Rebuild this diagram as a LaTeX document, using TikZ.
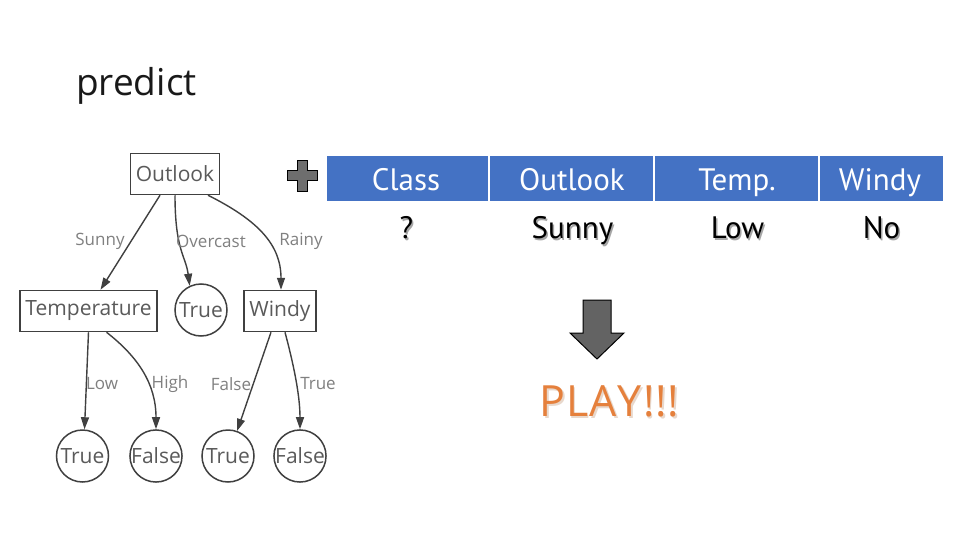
\documentclass[tikz,border=0pt]{standalone}
\usepackage{fontspec}
\setmainfont{Open Sans}
\newfontfamily\ptsans{PT Sans}
\usetikzlibrary{arrows.meta}
\definecolor{edgecol}{HTML}{404040}
\definecolor{nodetext}{HTML}{5A5A5A}
\definecolor{labeltext}{HTML}{808080}
\definecolor{headblue}{HTML}{4472C4}
\definecolor{playorange}{HTML}{E5803C}
\definecolor{playshadow}{HTML}{E8D8CC}
\definecolor{plusgray}{HTML}{6E6E6E}
\definecolor{arrowgray}{HTML}{636363}
\tikzset{
  treebox/.style={draw=edgecol, line width=1.5pt, inner sep=0pt, minimum height=41pt,
    text=nodetext, font=\fontsize{21}{25}\selectfont},
  leaf/.style={circle, draw=edgecol, line width=1.5pt, inner sep=0pt, minimum size=52pt,
    text=nodetext, font=\fontsize{21}{25}\selectfont},
  treeedge/.style={draw=edgecol, line width=1.4pt, -{Triangle[length=12pt,width=8pt]}},
  elabel/.style={text=labeltext, font=\fontsize{17}{20}\selectfont, inner sep=0pt},
  headcell/.style={fill=headblue, draw=none},
  headtext/.style={text=white, font=\ptsans\fontsize{31}{36}\selectfont, anchor=base, inner sep=0pt},
  rowtext/.style={text=black, font=\ptsans\fontsize{31}{36}\selectfont, anchor=base, inner sep=0pt},
  rowshadow/.style={text=black!35, font=\ptsans\fontsize{31}{36}\selectfont, anchor=base, inner sep=0pt},
}
\begin{document}
\begin{tikzpicture}[x=1pt,y=-1pt]
\useasboundingbox (0,0) rectangle (960,540);
\fill[white] (0,0) rectangle (960,540);

% title
\node[anchor=base west, inner sep=0pt, font=\fontsize{37}{44}\selectfont, text=black!90] (title) at (76,96) {predict};

% tree nodes
\node[treebox, minimum width=89pt] (outlook) at (175,174) {Outlook};
\node[treebox, minimum width=137pt] (temp) at (88.5,311) {Temperature};
\node[leaf] (trueA) at (201,310) {True};
\node[treebox, minimum width=72pt] (windy) at (280,311) {Windy};
\node[leaf] (t1) at (82.5,456) {True};
\node[leaf] (f1) at (156,456) {False};
\node[leaf] (t2) at (228,456) {True};
\node[leaf] (f2) at (300,456) {False};

% tree edges
\draw[treeedge] ([xshift=-15pt]outlook.south) -- ([xshift=12pt]temp.north);
\draw[treeedge] (outlook.south) .. controls +(0,55) and +(-4,-30) .. (trueA.115);
\draw[treeedge] ([xshift=33pt]outlook.south) .. controls +(50,25) and +(0,-45) .. ([xshift=1pt]windy.north);
\draw[treeedge] (temp.south) -- ([xshift=2pt]t1.north);
\draw[treeedge] ([xshift=18pt]temp.south) .. controls +(32,25) and +(0,-45) .. (f1.north);
\draw[treeedge] ([xshift=-9pt]windy.south) -- (t2.70);
\draw[treeedge] ([xshift=5pt]windy.south) .. controls +(8,30) and +(0,-35) .. (f2.north);

% edge labels
\node[elabel] (lsunny) at (100,241) {Sunny};
\node[elabel] (lover) at (211,241) {Overcast};
\node[elabel] (lrainy) at (301,241) {Rainy};
\node[elabel] (llow) at (102,384) {Low};
\node[elabel] (lhigh) at (170,384) {High};
\node[elabel] (lfalse) at (231,384) {False};
\node[elabel] (ltrue) at (318,384) {True};

% plus sign
\draw[fill=plusgray, draw=black, line width=1pt]
  (297,161) -- (307,161) -- (307,171) -- (317,171) -- (317,181) -- (307,181)
  -- (307,191) -- (297,191) -- (297,181) -- (287,181) -- (287,171) -- (297,171) -- cycle;

% table header
\fill[headcell] (327,156) rectangle (488,201);
\fill[headcell] (490,156) rectangle (653,201);
\fill[headcell] (655,156) rectangle (818,201);
\fill[headcell] (820,156) rectangle (943,201);
\node[headtext] (hclass) at (406,190) {Class};
\node[headtext] (houtlook) at (572,190) {Outlook};
\node[headtext] (htemp) at (737,190) {Temp.};
\node[headtext] (hwindy) at (880,190) {Windy};

% table row
\node[rowshadow] (sq) at (408,240) {?};
\node[rowshadow] (ssunny) at (574,240) {Sunny};
\node[rowshadow] (slow) at (739,240) {Low};
\node[rowshadow] (sno) at (883,240) {No};
\node[rowtext] (rq) at (406.5,238.5) {?};
\node[rowtext] (rsunny) at (572.5,238.5) {Sunny};
\node[rowtext] (rlow) at (737.5,238.5) {Low};
\node[rowtext] (rno) at (881.5,238.5) {No};

% down arrow
\draw[fill=arrowgray, draw=black, line width=1pt]
  (583,300) -- (611,300) -- (611,333) -- (624,333) -- (597,359) -- (570,333) -- (583,333) -- cycle;

% result
\node[anchor=base, inner sep=0pt, font=\fontsize{43}{52}\selectfont, text=playshadow] (playsh) at (611,418) {P\kern1pt L\kern1pt A\kern1pt Y\kern1pt !\kern1pt !\kern1pt !};
\node[anchor=base, inner sep=0pt, font=\fontsize{43}{52}\selectfont, text=playorange] (play) at (609.5,416.5) {P\kern1pt L\kern1pt A\kern1pt Y\kern1pt !\kern1pt !\kern1pt !};
\end{tikzpicture}
\end{document}
